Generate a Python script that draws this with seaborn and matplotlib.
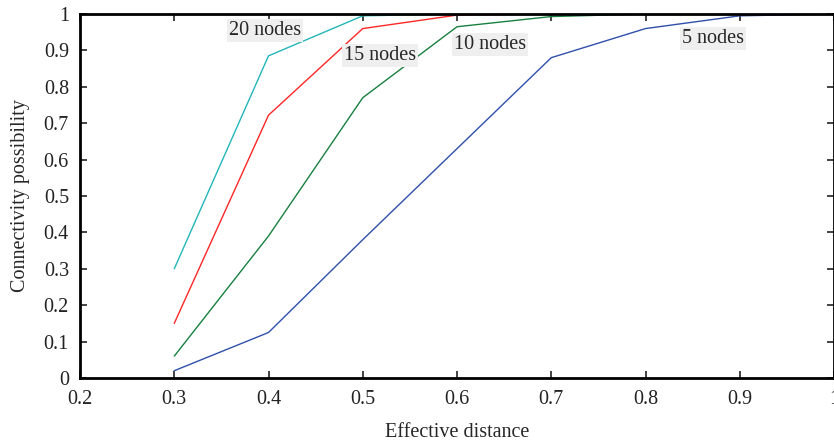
import matplotlib
matplotlib.use("Agg")
import matplotlib.pyplot as plt
import seaborn as sns
import pandas as pd

distance = [0.3, 0.4, 0.5, 0.6, 0.7, 0.8, 0.9, 1.0]
nodes20 = [0.30, 0.885, 0.995, 1.0, 1.0, 1.0, 1.0, 1.0]
nodes15 = [0.15, 0.722, 0.960, 0.997, 1.0, 1.0, 1.0, 1.0]
nodes10 = [0.06, 0.39, 0.77, 0.965, 0.993, 1.0, 1.0, 1.0]
nodes5 = [0.02, 0.125, 0.38, 0.63, 0.88, 0.96, 0.995, 1.0]
series_names = ["20 nodes", "15 nodes", "10 nodes", "5 nodes"]
x_ticks = [0.2, 0.3, 0.4, 0.5, 0.6, 0.7, 0.8, 0.9, 1.0]
x_tick_labels = ["0.2", "0.3", "0.4", "0.5", "0.6", "0.7", "0.8", "0.9", "1"]
y_ticks = [0, 0.1, 0.2, 0.3, 0.4, 0.5, 0.6, 0.7, 0.8, 0.9, 1.0]
y_tick_labels = ["0", "0.1", "0.2", "0.3", "0.4", "0.5", "0.6", "0.7", "0.8", "0.9", "1"]

rows = []
for name, vals in zip(series_names, [nodes20, nodes15, nodes10, nodes5]):
    for x, y in zip(distance, vals):
        rows.append({"distance": x, "value": y, "series": name})
df = pd.DataFrame(rows)

sns.set_style("ticks")
plt.rcParams["font.family"] = ["Liberation Serif", "DejaVu Serif"]

fig = plt.figure(figsize=(8.34, 4.45), dpi=100)
ax = fig.add_axes([80 / 834, 1 - 378 / 445, (834 - 80) / 834, (378 - 14) / 445])

palette = {"20 nodes": "#22b6b8", "15 nodes": "#ff2626", "10 nodes": "#17803f", "5 nodes": "#2f4fab"}
sns.lineplot(data=df, x="distance", y="value", hue="series", palette=palette,
             linewidth=1.0, legend=False, ax=ax)

ax.set_xlim(0.2, 1.0)
ax.set_ylim(0, 1.0)
ax.set_xticks(x_ticks)
ax.set_xticklabels(x_tick_labels)
ax.set_yticks(y_ticks)
ax.set_yticklabels(y_tick_labels)
ax.tick_params(direction="in", length=5, width=1.2, top=True, right=True,
               labelsize=14.5, colors="#222222")
ax.tick_params(axis="x", pad=9)
ax.tick_params(axis="y", pad=8)
for s in ax.spines.values():
    s.set_linewidth(2.0)
    s.set_color("black")
ax.set_xlabel("Effective distance", fontsize=14.5, labelpad=10)
ax.set_ylabel("Connectivity possibility", fontsize=14.5, labelpad=10)

box = dict(facecolor="#efefef", edgecolor="none", pad=1.5)
label_pos = {"20 nodes": (0.396, 0.955), "15 nodes": (0.518, 0.887),
             "10 nodes": (0.635, 0.915), "5 nodes": (0.872, 0.934)}
for name in series_names:
    x, y = label_pos[name]
    ax.text(x, y, name, ha="center", va="center", fontsize=14.5, bbox=box, zorder=5)

fig.savefig("out.png", dpi=100)
